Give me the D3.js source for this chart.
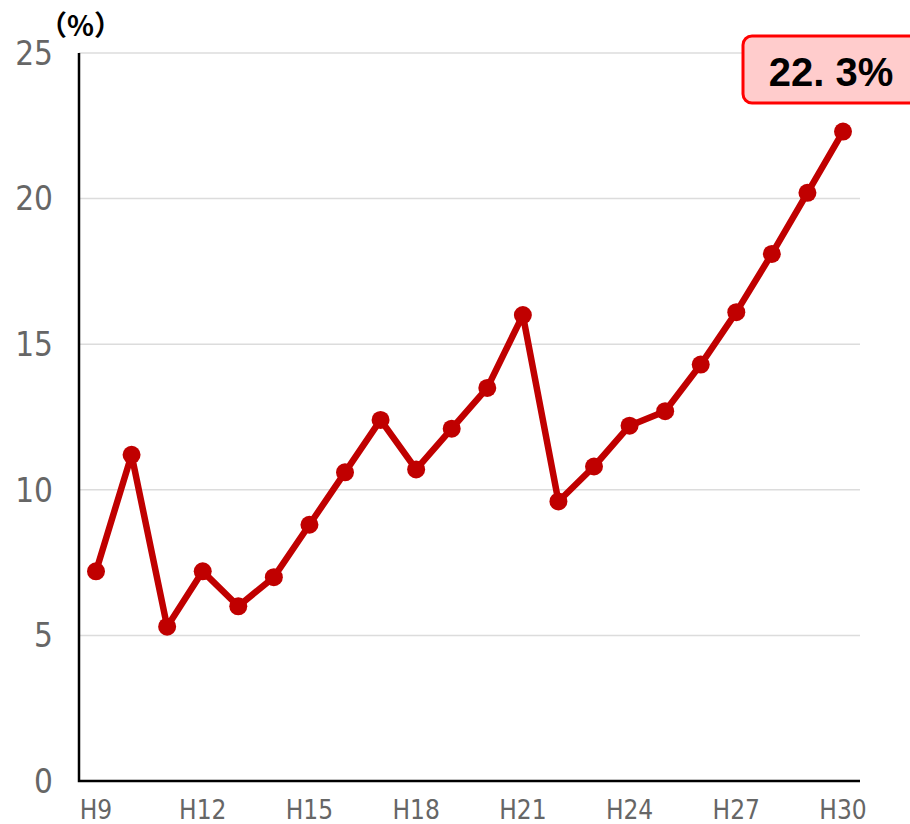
<!DOCTYPE html>
<html>
<head>
<meta charset="utf-8">
<script src="https://cdn.jsdelivr.net/npm/d3@7"></script>
<style>
  body { margin: 0; background: #fff; }
</style>
</head>
<body>
<div id="chart"></div>
<script>
const years = ["H9", "H10", "H11", "H12", "H13", "H14", "H15", "H16", "H17", "H18", "H19",
  "H20", "H21", "H22", "H23", "H24", "H25", "H26", "H27", "H28", "H29", "H30"];
const rates = [7.2, 11.2, 5.3, 7.2, 6.0, 7.0, 8.8, 10.6, 12.4, 10.7, 12.1,
  13.5, 16.0, 9.6, 10.8, 12.2, 12.7, 14.3, 16.1, 18.1, 20.2, 22.3];
const xTickLabels = ["H9", "H12", "H15", "H18", "H21", "H24", "H27", "H30"];
const yTicks = [0, 5, 10, 15, 20, 25];
const lastLabel = "22. 3%";

const W = 910, H = 824;
const plot = { left: 79, right: 860, top: 53, bottom: 781 };

const svg = d3.select("#chart").append("svg")
  .attr("width", W)
  .attr("height", H);

const x = d3.scalePoint()
  .domain(years)
  .range([96, 843]);

const y = d3.scaleLinear()
  .domain([0, 25])
  .range([plot.bottom, plot.top]);

// gridlines
svg.append("g")
  .selectAll("line")
  .data(yTicks.filter(d => d > 0))
  .enter()
  .append("line")
  .attr("x1", plot.left)
  .attr("x2", plot.right)
  .attr("y1", d => y(d))
  .attr("y2", d => y(d))
  .attr("stroke", "#dcdcdc")
  .attr("stroke-width", 1.5);

// y tick labels
svg.append("g")
  .selectAll("text")
  .data(yTicks)
  .enter()
  .append("text")
  .attr("x", 53)
  .attr("y", d => y(d))
  .attr("dy", "0.36em")
  .attr("text-anchor", "end")
  .style("font-family", "'DejaVu Sans Condensed', 'Liberation Sans Narrow', sans-serif")
  .style("font-size", "33px")
  .style("fill", "#666")
  .text(d => d);

// x tick labels
svg.append("g")
  .selectAll("text")
  .data(xTickLabels)
  .enter()
  .append("text")
  .attr("x", d => x(d))
  .attr("y", 819)
  .attr("text-anchor", "middle")
  .style("font-family", "'DejaVu Sans Condensed', 'Liberation Sans Narrow', sans-serif")
  .style("font-size", "26px")
  .style("fill", "#666")
  .text(d => d);

// axes
svg.append("path")
  .attr("d", `M${plot.left},${plot.top}V${plot.bottom}H${plot.right}`)
  .attr("fill", "none")
  .attr("stroke", "#000")
  .attr("stroke-width", 2.5);

svg.append("text")
  .attr("x", 39)
  .attr("y", 36)
  .style("font-family", "'Noto Sans CJK JP', sans-serif")
  .style("font-size", "28px")
  .style("font-weight", "bold")
  .text("（%）");

// line
const line = d3.line()
  .x((d, i) => x(years[i]))
  .y(d => y(d));

svg.append("path")
  .datum(rates)
  .attr("fill", "none")
  .attr("stroke", "#c00000")
  .attr("stroke-width", 6.5)
  .attr("stroke-linejoin", "round")
  .attr("d", line);

svg.append("g")
  .selectAll("circle")
  .data(rates)
  .enter()
  .append("circle")
  .attr("cx", (d, i) => x(years[i]))
  .attr("cy", d => y(d))
  .attr("r", 9)
  .attr("fill", "#c00000");

// last value callout
const lx = x(years[years.length - 1]);
svg.append("rect")
  .attr("x", lx - 100)
  .attr("y", 36)
  .attr("width", 180)
  .attr("height", 67)
  .attr("rx", 9)
  .attr("fill", "#ffcccc")
  .attr("stroke", "#ff0000")
  .attr("stroke-width", 3);

svg.append("text")
  .attr("x", lx - 12)
  .attr("y", 72)
  .attr("dy", "0.36em")
  .attr("text-anchor", "middle")
  .style("font-family", "'Liberation Sans', Arial, sans-serif")
  .style("font-size", "40px")
  .style("font-weight", "bold")
  .text(lastLabel);
</script>
</body>
</html>
